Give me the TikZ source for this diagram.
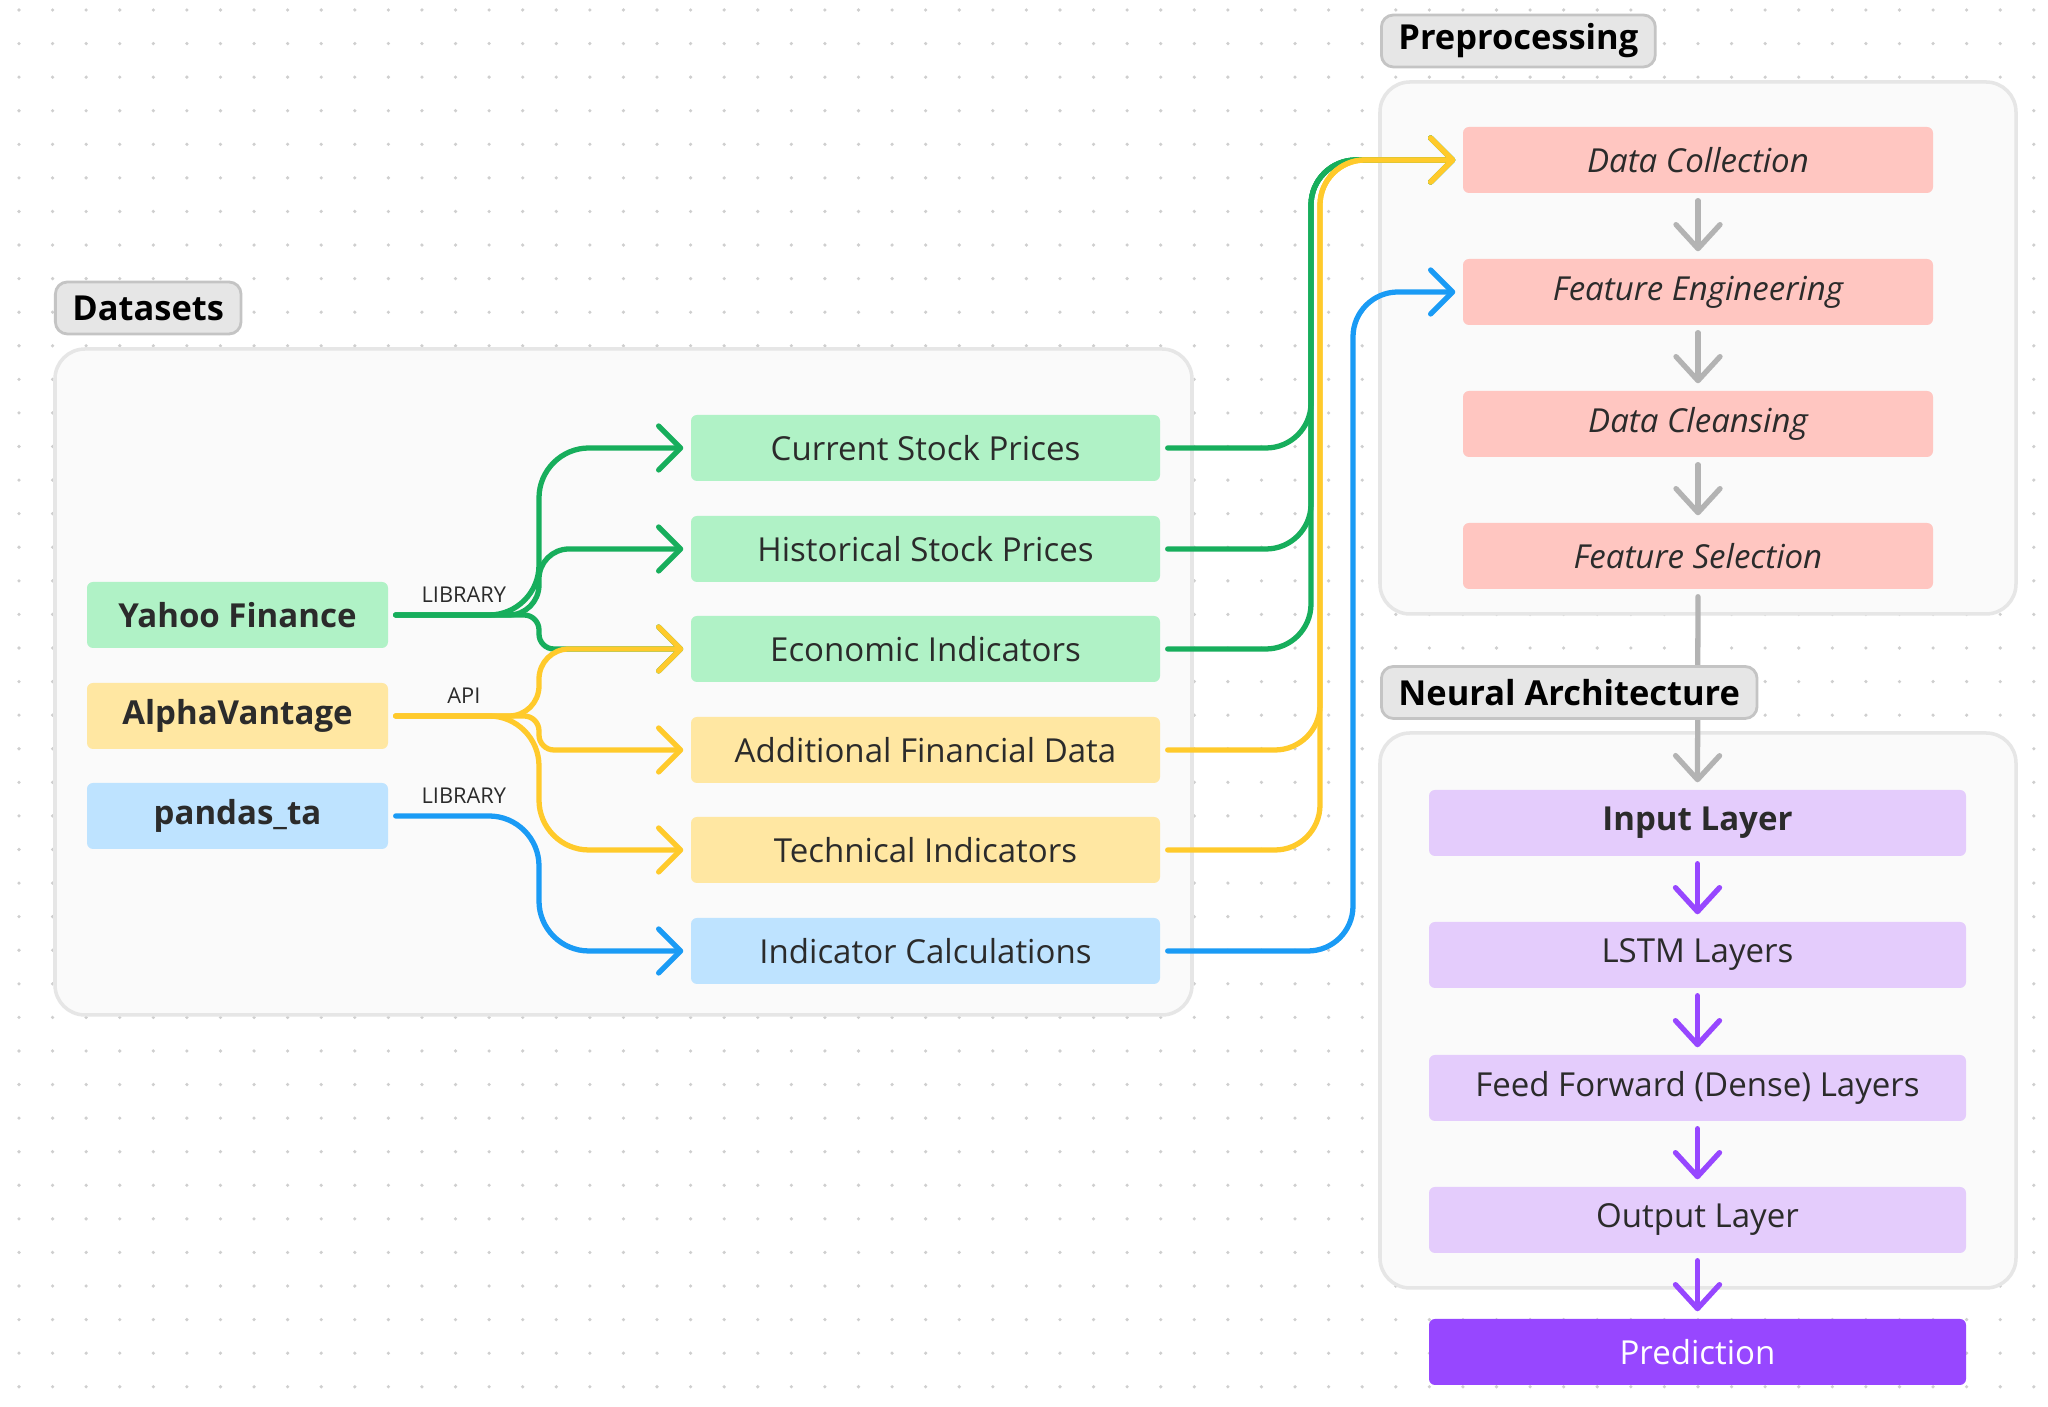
\documentclass[tikz,border=0pt]{standalone}
\usepackage{fontspec}
\setmainfont{Open Sans}
\usepackage[usenames,dvipsnames]{xcolor}
\usepackage{tikz}
\usetikzlibrary{arrows.meta,positioning}

\definecolor{ink}{HTML}{2B2B2B}
\definecolor{grnfill}{HTML}{B0F2C6}
\definecolor{grnline}{HTML}{17AE5C}
\definecolor{ylwfill}{HTML}{FFE7A2}
\definecolor{ylwline}{HTML}{FFCA2B}
\definecolor{bluefill}{HTML}{BEE3FF}
\definecolor{blueline}{HTML}{1A9BF5}
\definecolor{pinkfill}{HTML}{FFC6C1}
\definecolor{lavfill}{HTML}{E4CCFC}
\definecolor{purpline}{HTML}{9747FF}
\definecolor{grayline}{HTML}{B3B3B3}
\definecolor{groupfill}{HTML}{FAFAFA}
\definecolor{groupline}{HTML}{E6E6E6}
\definecolor{labelfill}{HTML}{E6E6E6}
\definecolor{labelline}{HTML}{C4C4C4}
\definecolor{dotcol}{HTML}{CFCFCF}

\pgfdeclarelayer{bg}
\pgfdeclarelayer{edges}
\pgfsetlayers{bg,edges,main}

\tikzset{
  box/.style={rectangle, rounded corners=0.6mm, minimum height=6.6mm, inner sep=0pt,
    text=ink, font=\fontsize{9.4}{11}\selectfont},
  srcbox/.style={box, minimum width=30.1mm, font=\fontsize{9.4}{11}\selectfont\bfseries},
  databox/.style={box, minimum width=46.9mm},
  prepbox/.style={box, fill=pinkfill, minimum width=47mm, font=\fontsize{9.4}{11}\selectfont\itshape},
  layerbox/.style={box, fill=lavfill, minimum width=53.7mm},
  grouplbl/.style={draw=labelline, fill=labelfill, line width=0.8pt, rounded corners=1.2mm,
    minimum height=5.2mm, inner xsep=1.7mm, inner ysep=0pt, font=\fontsize{9.8}{12}\selectfont\bfseries},
  groupbox/.style={draw=groupline, fill=groupfill, line width=1pt, rounded corners=3mm},
  edgelbl/.style={above, inner sep=1mm, text=ink, font=\fontsize{6.2}{7}\selectfont},
  link/.style={line width=1.5pt, line cap=round,
    -{Straight Barb[length=2.2mm,width=4.4mm,round]}, shorten <=0.7mm, shorten >=0.7mm},
  flow/.style={line width=1.5pt, line cap=round,
    -{Straight Barb[length=2.4mm,width=4.4mm,round]}, shorten <=0.7mm, shorten >=0.7mm},
}

\begin{document}
\begin{tikzpicture}
  \useasboundingbox (0,0) rectangle (20.48,-14.07);

  % channels for the connectors
  \coordinate (lch) at (5.39,0);
  \coordinate (gch) at (13.11,0);
  \coordinate (ych) at (13.20,0);
  \coordinate (bch) at (13.53,0);

  % titles
  \node[grouplbl, anchor=west] (dsl) at (0.54,-3.08) {Datasets};
  \node[grouplbl, anchor=west] (ppl) at (13.80,-0.41) {Preprocessing};
  \node[grouplbl, anchor=west] (nal) at (13.80,-6.925) {Neural Architecture};

  % sources
  \node[srcbox, fill=grnfill] (yf) at (2.375,-6.15) {Yahoo Finance};
  \node[srcbox, fill=ylwfill] (av) at (2.375,-7.16) {AlphaVantage};
  \node[srcbox, fill=bluefill] (pta) at (2.375,-8.16) {pandas\_ta};

  % datasets
  \node[databox, fill=grnfill] (csp) at (9.255,-4.48) {Current Stock Prices};
  \node[databox, fill=grnfill] (hsp) at (9.255,-5.49) {Historical Stock Prices};
  \node[databox, fill=grnfill] (ei) at (9.255,-6.49) {Economic Indicators};
  \node[databox, fill=ylwfill] (afd) at (9.255,-7.50) {Additional Financial Data};
  \node[databox, fill=ylwfill] (ti) at (9.255,-8.50) {Technical Indicators};
  \node[databox, fill=bluefill] (ic) at (9.255,-9.51) {Indicator Calculations};

  % preprocessing
  \node[prepbox] (dc) at (16.98,-1.60) {Data Collection};
  \node[prepbox] (fe) at (16.98,-2.92) {Feature Engineering};
  \node[prepbox] (dcl) at (16.98,-4.24) {Data Cleansing};
  \node[prepbox] (fs) at (16.98,-5.56) {Feature Selection};

  % network
  \node[layerbox, font=\fontsize{9.4}{11}\selectfont\bfseries] (il) at (16.975,-8.23) {Input Layer};
  \node[layerbox] (lstm) at (16.975,-9.55) {LSTM Layers};
  \node[layerbox] (ff) at (16.975,-10.88) {Feed Forward (Dense) Layers};
  \node[layerbox] (ol) at (16.975,-12.20) {Output Layer};
  \node[layerbox, fill=purpline, text=white] (pred) at (16.975,-13.52) {Prediction};

  \begin{pgfonlayer}{bg}
    \fill[white] (0,0) rectangle (20.48,-14.07);
    \foreach \i in {0,...,60}
      \foreach \j in {0,...,41}
        \fill[dotcol] ({0.19+0.3358*\i},{-0.10-0.3358*\j}) circle (0.018);
    \draw[groupbox] (0.55,-3.49) rectangle (11.92,-10.15);
    \draw[groupbox] (13.80,-0.82) rectangle (20.16,-6.14);
    \draw[groupbox] (13.80,-7.33) rectangle (20.16,-12.88);
  \end{pgfonlayer}

  \begin{pgfonlayer}{edges}
    % green
    \draw[link, grnline, rounded corners=5mm] (yf.east) -| node[edgelbl, pos=0.25] {LIBRARY} (lch |- csp) -- (csp.west);
    \draw[link, grnline, rounded corners=3mm] (yf.east) -| (lch |- hsp) -- (hsp.west);
    \draw[link, grnline, rounded corners=1.5mm] (yf.east) -| (lch |- ei) -- (ei.west);
    \draw[link, grnline, rounded corners=4.5mm] (csp.east) -| (gch |- dc) -- (dc.west);
    \draw[link, grnline, rounded corners=4.5mm] (hsp.east) -| (gch |- dc) -- (dc.west);
    \draw[link, grnline, rounded corners=4.5mm] (ei.east) -| (gch |- dc) -- (dc.west);
    % yellow
    \draw[link, ylwline, rounded corners=3mm] (av.east) -| node[edgelbl, pos=0.25] {API} (lch |- ei) -- (ei.west);
    \draw[link, ylwline, rounded corners=1.5mm] (av.east) -| (lch |- afd) -- (afd.west);
    \draw[link, ylwline, rounded corners=5mm] (av.east) -| (lch |- ti) -- (ti.west);
    \draw[link, ylwline, rounded corners=4.5mm] (afd.east) -| (ych |- dc) -- (dc.west);
    \draw[link, ylwline, rounded corners=4.5mm] (ti.east) -| (ych |- dc) -- (dc.west);
    % blue
    \draw[link, blueline, rounded corners=5mm] (pta.east) -| node[edgelbl, pos=0.25] {LIBRARY} (lch |- ic) -- (ic.west);
    \draw[link, blueline, rounded corners=4.5mm] (ic.east) -| (bch |- fe) -- (fe.west);
    % steps
    \draw[flow, grayline] (dc.south) -- (fe.north);
    \draw[flow, grayline] (fe.south) -- (dcl.north);
    \draw[flow, grayline] (dcl.south) -- (fs.north);
    \draw[flow, grayline] (fs.south) -- (il.north);
    \draw[flow, purpline] (il.south) -- (lstm.north);
    \draw[flow, purpline] (lstm.south) -- (ff.north);
    \draw[flow, purpline] (ff.south) -- (ol.north);
    \draw[flow, purpline] (ol.south) -- (pred.north);
  \end{pgfonlayer}
\end{tikzpicture}
\end{document}
